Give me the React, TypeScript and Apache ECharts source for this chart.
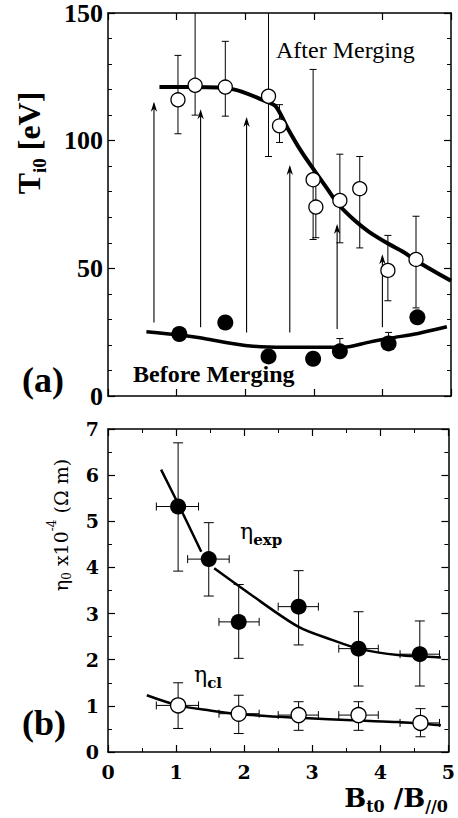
import React, { useEffect, useRef } from "react";
import * as echarts from "echarts";

// ---------- Panel (a): ion temperature ----------
const afterX = [1.02, 1.27, 1.71, 2.34, 2.5, 2.99, 3.03, 3.38, 3.67, 4.08, 4.49];
const afterY = [116, 121.7, 121, 117.4, 105.8, 84.7, 74, 76.6, 81.2, 49.2, 53.5];
const afterLow = [102.7, 110, 109.6, 93.8, 99.3, 61.3, 62, 60, 58, 37.3, 34.5];
const afterHigh = [133.4, 155, 138.9, 155, 114.1, 127.9, 86, 94.7, 93.8, 62.9, 70.4];

const beforeX = [1.04, 1.71, 2.34, 2.99, 3.38, 4.09, 4.51];
const beforeY = [24.3, 28.8, 15.5, 14.6, 17.5, 20.6, 30.8];
const beforeErrX = [3.38, 4.09];
const beforeErrLow = [16, 19];
const beforeErrHigh = [22.5, 24.9];

const afterCurveX = [0.75, 1.25, 1.83, 2.32, 2.45, 2.62, 2.82, 3.02, 3.19, 3.36, 3.61, 3.81, 4.1, 4.3, 4.54, 4.79, 5.0];
const afterCurveY = [121, 121, 120.1, 115.2, 113.3, 104.8, 95.7, 87.9, 81.4, 75, 68.4, 64.2, 59.4, 56.5, 52.2, 48.3, 45.1];
const beforeCurveX = [0.56, 1.05, 1.34, 2.0, 2.57, 3.44, 3.79, 4.1, 4.52, 4.94];
const beforeCurveY = [25.2, 23.9, 22.8, 19.8, 19.1, 19.1, 21, 22.6, 24.5, 27.1];

const arrowX = [0.67, 1.35, 2.02, 2.65, 3.34, 4.0];
const arrowFrom = [28.8, 26.9, 24.9, 24.9, 26.2, 26.9];
const arrowTo = [115.2, 112.3, 109.3, 90.5, 67.4, 55.5];

const tiTicks = [0, 50, 100, 150];

// ---------- Panel (b): resistivity ----------
const expX = [1.03, 1.48, 1.92, 2.8, 3.68, 4.58];
const expY = [5.32, 4.18, 2.82, 3.15, 2.24, 2.12];
const expYLow = [3.92, 3.38, 2.03, 2.32, 1.43, 1.43];
const expYHigh = [6.7, 4.97, 3.63, 3.93, 3.04, 2.84];
const expXLow = [0.71, 1.17, 1.63, 2.5, 3.39, 4.29];
const expXHigh = [1.33, 1.78, 2.22, 3.09, 3.97, 4.87];

const clX = [1.03, 1.92, 2.8, 3.68, 4.59];
const clY = [1.01, 0.83, 0.8, 0.8, 0.63];
const clYLow = [0.51, 0.4, 0.47, 0.47, 0.33];
const clYHigh = [1.5, 1.23, 1.09, 1.09, 0.94];
const clXLow = [0.71, 1.63, 2.5, 3.39, 4.29];
const clXHigh = [1.33, 2.22, 3.09, 3.97, 4.87];

const expCurveX = [0.78, 1.03, 1.37, null, 1.56, 2.07, 2.8, 3.29, 3.68, 4.26, 4.89];
const expCurveY = [6.12, 5.38, 4.34, null, 3.98, 3.44, 2.71, 2.43, 2.24, 2.1, 2.05];
const clCurveX = [0.57, 1.03, 1.5, 1.93, 2.8, 3.68, 4.26, 4.89];
const clCurveY = [1.23, 1.01, 0.9, 0.82, 0.74, 0.68, 0.65, 0.58];

const xTicks = [0, 1, 2, 3, 4, 5];

const TIMES = "'Liberation Serif', 'Times New Roman', serif";
const CENT = "'DejaVu Serif', serif";

function pairs(xs: (number | null)[], ys: (number | null)[]) {
  return xs.map((x, i) => (x === null || ys[i] === null ? [null, null] : [x, ys[i]]));
}

const lineStyle = { stroke: "#000", lineWidth: 1 };

function vErrRender(cap: number) {
  return (params: any, api: any) => {
    const x = api.value(0);
    const p1 = api.coord([x, api.value(1)]);
    const p2 = api.coord([x, api.value(2)]);
    return {
      type: "group",
      children: [
        { type: "line", shape: { x1: p1[0], y1: p1[1], x2: p2[0], y2: p2[1] }, style: lineStyle },
        { type: "line", shape: { x1: p1[0] - cap, y1: p1[1], x2: p1[0] + cap, y2: p1[1] }, style: lineStyle },
        { type: "line", shape: { x1: p2[0] - cap, y1: p2[1], x2: p2[0] + cap, y2: p2[1] }, style: lineStyle },
      ],
    };
  };
}

function hErrRender(cap: number) {
  return (params: any, api: any) => {
    const y = api.value(0);
    const p1 = api.coord([api.value(1), y]);
    const p2 = api.coord([api.value(2), y]);
    return {
      type: "group",
      children: [
        { type: "line", shape: { x1: p1[0], y1: p1[1], x2: p2[0], y2: p2[1] }, style: lineStyle },
        { type: "line", shape: { x1: p1[0], y1: p1[1] - cap, x2: p1[0], y2: p1[1] + cap }, style: lineStyle },
        { type: "line", shape: { x1: p2[0], y1: p2[1] - cap, x2: p2[0], y2: p2[1] + cap }, style: lineStyle },
      ],
    };
  };
}

function arrowRender(params: any, api: any) {
  const x = api.value(0);
  const a = api.coord([x, api.value(1)]);
  const b = api.coord([x, api.value(2)]);
  return {
    type: "group",
    children: [
      { type: "line", shape: { x1: a[0], y1: a[1], x2: b[0], y2: b[1] + 2 }, style: { stroke: "#000", lineWidth: 1.1 } },
      {
        type: "polygon",
        shape: { points: [[b[0], b[1]], [b[0] - 3.2, b[1] + 10], [b[0], b[1] + 7], [b[0] + 3.2, b[1] + 10]] },
        style: { fill: "#000" },
      },
    ],
  };
}

function makeXAxis(grid: number, pos: "bottom" | "top", labels: boolean, minor: boolean) {
  return {
    type: "value",
    gridIndex: grid,
    position: pos,
    min: 0,
    max: 5,
    interval: 1,
    axisLine: { show: true, onZero: false, lineStyle: { color: "#000", width: 1.5 } },
    axisTick: { show: true, inside: true, length: 7, lineStyle: { color: "#000", width: 1.2 } },
    minorTick: { show: minor, splitNumber: 2, length: 4, lineStyle: { color: "#000", width: 1 } },
    axisLabel: {
      show: labels,
      margin: 10,
      color: "#000",
      fontFamily: CENT,
      fontWeight: "bold",
      fontSize: 19,
      formatter: (v: number) => (xTicks.includes(v) ? String(v) : ""),
    },
    splitLine: { show: false },
    minorSplitLine: { show: false },
  };
}

function makeYAxis(
  grid: number,
  pos: "left" | "right",
  max: number,
  interval: number,
  minorSplit: number,
  labels: boolean,
  font: string,
  size: number,
  margin: number
) {
  return {
    type: "value",
    gridIndex: grid,
    position: pos,
    min: 0,
    max,
    interval,
    axisLine: { show: true, onZero: false, lineStyle: { color: "#000", width: 1.5 } },
    axisTick: { show: true, inside: true, length: 7, lineStyle: { color: "#000", width: 1.2 } },
    minorTick: { show: true, splitNumber: minorSplit, length: 4, lineStyle: { color: "#000", width: 1 } },
    axisLabel: { show: labels, margin, color: "#000", fontFamily: font, fontWeight: "bold", fontSize: size },
    splitLine: { show: false },
    minorSplitLine: { show: false },
  };
}

function txt(x: number, y: number, text: string, opts: any) {
  return {
    type: "text",
    x,
    y,
    rotation: opts.rotation || 0,
    z: 100,
    style: {
      text,
      fill: "#000",
      font: opts.font,
      rich: opts.rich,
      align: opts.align || "left",
      textAlign: opts.align || "left",
      verticalAlign: "middle",
      textVerticalAlign: "middle",
    },
  };
}

export default function App() {
  const ref = useRef<HTMLDivElement>(null);
  useEffect(() => {
    if (!ref.current) return;
    const chart = echarts.init(ref.current, undefined, { renderer: "svg" });
    const option: any = {
      animation: false,
      backgroundColor: "#fff",
      grid: [
        { left: 108, top: 11, width: 343, height: 385 },
        { left: 108, top: 429, width: 343, height: 323 },
      ],
      xAxis: [
        makeXAxis(0, "bottom", false, false),
        makeXAxis(0, "top", false, false),
        makeXAxis(1, "bottom", true, true),
        makeXAxis(1, "top", false, true),
      ],
      yAxis: [
        {
          ...makeYAxis(0, "left", 150, 50, 5, true, TIMES, 26, 5),
          axisLabel: {
            show: true,
            margin: 5,
            color: "#000",
            fontFamily: TIMES,
            fontWeight: "bold",
            fontSize: 26,
            formatter: (v: number) => (tiTicks.includes(v) ? String(v) : ""),
          },
        },
        makeYAxis(0, "right", 150, 50, 5, false, TIMES, 26, 5),
        makeYAxis(1, "left", 7, 1, 2, true, CENT, 19, 9),
        makeYAxis(1, "right", 7, 1, 2, false, CENT, 19, 9),
      ],
      series: [
        // panel (a)
        {
          type: "custom",
          xAxisIndex: 0,
          yAxisIndex: 0,
          clip: true,
          z: 2,
          renderItem: arrowRender,
          data: arrowX.map((x, i) => [x, arrowFrom[i], arrowTo[i]]),
        },
        {
          type: "custom",
          xAxisIndex: 0,
          yAxisIndex: 0,
          clip: true,
          z: 2,
          renderItem: vErrRender(3.5),
          data: afterX.map((x, i) => [x, afterLow[i], afterHigh[i]]),
        },
        {
          type: "custom",
          xAxisIndex: 0,
          yAxisIndex: 0,
          clip: true,
          z: 2,
          renderItem: vErrRender(3.5),
          data: beforeErrX.map((x, i) => [x, beforeErrLow[i], beforeErrHigh[i]]),
        },
        {
          type: "line",
          xAxisIndex: 0,
          yAxisIndex: 0,
          z: 3,
          smooth: 0.3,
          symbol: "none",
          lineStyle: { color: "#000", width: 4 },
          data: pairs(afterCurveX, afterCurveY),
        },
        {
          type: "line",
          xAxisIndex: 0,
          yAxisIndex: 0,
          z: 3,
          smooth: 0.3,
          symbol: "none",
          lineStyle: { color: "#000", width: 3.5 },
          data: pairs(beforeCurveX, beforeCurveY),
        },
        {
          type: "scatter",
          xAxisIndex: 0,
          yAxisIndex: 0,
          z: 5,
          symbolSize: 14,
          itemStyle: { color: "#fff", borderColor: "#000", borderWidth: 1.3, opacity: 1 },
          data: pairs(afterX, afterY),
        },
        {
          type: "scatter",
          xAxisIndex: 0,
          yAxisIndex: 0,
          z: 5,
          symbolSize: 16,
          itemStyle: { color: "#000", opacity: 1 },
          data: pairs(beforeX, beforeY),
        },
        // panel (b)
        {
          type: "custom",
          xAxisIndex: 2,
          yAxisIndex: 2,
          z: 2,
          renderItem: vErrRender(5),
          data: expX.map((x, i) => [x, expYLow[i], expYHigh[i]]),
        },
        {
          type: "custom",
          xAxisIndex: 2,
          yAxisIndex: 2,
          z: 2,
          renderItem: hErrRender(4),
          data: expY.map((y, i) => [y, expXLow[i], expXHigh[i]]),
        },
        {
          type: "custom",
          xAxisIndex: 2,
          yAxisIndex: 2,
          z: 2,
          renderItem: vErrRender(5),
          data: clX.map((x, i) => [x, clYLow[i], clYHigh[i]]),
        },
        {
          type: "custom",
          xAxisIndex: 2,
          yAxisIndex: 2,
          z: 2,
          renderItem: hErrRender(4),
          data: clY.map((y, i) => [y, clXLow[i], clXHigh[i]]),
        },
        {
          type: "line",
          xAxisIndex: 2,
          yAxisIndex: 2,
          z: 3,
          smooth: 0.3,
          connectNulls: false,
          symbol: "none",
          lineStyle: { color: "#000", width: 2.5 },
          data: pairs(expCurveX, expCurveY),
        },
        {
          type: "line",
          xAxisIndex: 2,
          yAxisIndex: 2,
          z: 3,
          smooth: 0.3,
          symbol: "none",
          lineStyle: { color: "#000", width: 2.5 },
          data: pairs(clCurveX, clCurveY),
        },
        {
          type: "scatter",
          xAxisIndex: 2,
          yAxisIndex: 2,
          z: 5,
          symbolSize: 16,
          itemStyle: { color: "#000", opacity: 1 },
          data: pairs(expX, expY),
        },
        {
          type: "scatter",
          xAxisIndex: 2,
          yAxisIndex: 2,
          z: 5,
          symbolSize: 15,
          itemStyle: { color: "#fff", borderColor: "#000", borderWidth: 1.3, opacity: 1 },
          data: pairs(clX, clY),
        },
      ],
      graphic: [
        txt(28, 143, "{a|T}{s|i0}{a| [eV]}", {
          rotation: Math.PI / 2,
          align: "center",
          rich: {
            a: { fontFamily: TIMES, fontWeight: "bold", fontSize: 32, lineHeight: 34, verticalAlign: "bottom" },
            s: { fontFamily: TIMES, fontWeight: "bold", fontSize: 19, lineHeight: 22, verticalAlign: "bottom", padding: [0, 0, -4, 0] },
          },
        }),
        txt(43, 380, "(a)", { font: `bold 36px ${TIMES}`, align: "center" }),
        txt(276, 50, "After Merging", { font: `24px ${TIMES}` }),
        txt(133, 374, "Before Merging", { font: `bold 24px ${TIMES}` }),
        txt(58, 525, "{a|η}{s|0}{a| x10}{p|-4}{a| (Ω m)}", {
          rotation: Math.PI / 2,
          align: "center",
          rich: {
            a: { fontFamily: CENT, fontSize: 19, lineHeight: 24, verticalAlign: "bottom" },
            s: { fontFamily: CENT, fontSize: 12, lineHeight: 16, verticalAlign: "bottom", padding: [0, 0, -3, 0] },
            p: { fontFamily: CENT, fontSize: 12, lineHeight: 24, verticalAlign: "top" },
          },
        }),
        txt(44, 723, "(b)", { font: `bold 36px ${TIMES}`, align: "center" }),
        txt(240, 529, "{a|η}{s|exp}", {
          rich: {
            a: { fontFamily: CENT, fontSize: 22, lineHeight: 26, verticalAlign: "bottom" },
            s: { fontFamily: CENT, fontWeight: "bold", fontSize: 15, lineHeight: 16, verticalAlign: "bottom", padding: [0, 0, -5, 0] },
          },
        }),
        txt(194, 672, "{a|η}{s|cl}", {
          rich: {
            a: { fontFamily: CENT, fontSize: 22, lineHeight: 26, verticalAlign: "bottom" },
            s: { fontFamily: CENT, fontWeight: "bold", fontSize: 15, lineHeight: 16, verticalAlign: "bottom", padding: [0, 0, -5, 0] },
          },
        }),
        txt(448, 796, "{a|B}{s|t0}{a| /B}{s|//0}", {
          align: "right",
          rich: {
            a: { fontFamily: CENT, fontWeight: "bold", fontSize: 26, lineHeight: 30, verticalAlign: "bottom" },
            s: { fontFamily: CENT, fontWeight: "bold", fontSize: 16, lineHeight: 18, verticalAlign: "bottom", padding: [0, 0, -3, 0] },
          },
        }),
      ],
    };
    chart.setOption(option);
    return () => chart.dispose();
  }, []);
  return (
    <div
      ref={ref}
      style={{ position: "absolute", left: 0, top: 0, width: 458, height: 818, background: "#fff" }}
    />
  );
}
